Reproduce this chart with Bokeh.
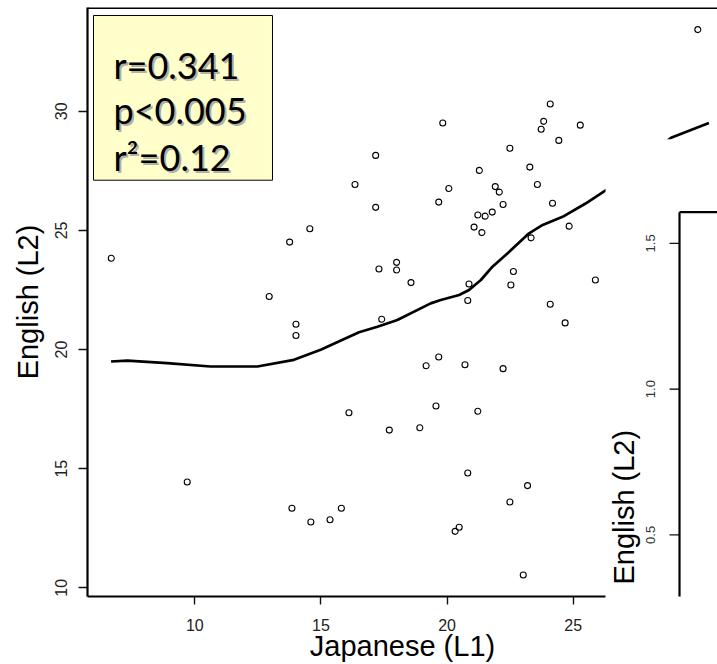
import numpy as np
from bokeh.plotting import figure
from bokeh.models import Range1d, FixedTicker, Span, Arrow
from bokeh.core.properties import value
from bokeh.embed import file_html
from bokeh.resources import INLINE

# ---------------- data ----------------
japanese_l1 = [6.69, 9.70, 12.95, 13.76, 13.85, 14.01, 14.01, 14.56, 14.60, 15.36,
               15.81, 16.11, 16.35, 17.17, 17.17, 17.30, 17.41, 17.71, 18.00, 18.00,
               18.57, 18.92, 19.17, 19.56, 19.67, 19.67, 19.83, 20.07, 20.32, 20.48,
               20.71, 20.82, 20.82, 20.87, 21.07, 21.22, 21.22, 21.28, 21.38, 21.51,
               21.79, 21.91, 22.07, 22.22, 22.22, 22.49, 22.49, 22.53, 22.63, 23.02,
               23.19, 23.28, 23.33, 23.58, 23.73, 23.83, 24.09, 24.09, 24.18, 24.43,
               24.68, 24.84, 25.28, 25.88, 29.94]
english_l2 = [23.83, 14.44, 22.23, 24.51, 13.34, 21.06, 20.59, 25.07, 12.76, 12.86,
              13.34, 17.35, 26.93, 28.15, 25.97, 23.38, 21.27, 16.62, 23.66, 23.34,
              22.81, 16.72, 19.32, 17.63, 26.19, 19.69, 29.51, 26.76, 12.37, 12.54,
              19.36, 22.06, 14.82, 22.75, 25.14, 25.65, 17.41, 27.52, 24.91, 25.60,
              25.77, 26.84, 26.61, 26.09, 19.20, 28.45, 13.60, 22.71, 23.28, 10.54,
              14.29, 27.66, 24.69, 26.93, 29.25, 29.58, 30.31, 21.90, 26.14, 28.78,
              21.12, 25.18, 29.42, 22.92, 33.43]

loess_x = [6.68, 7.32, 8.90, 10.62, 12.48, 13.93, 14.99, 16.51, 17.24, 18.03,
           19.35, 19.75, 20.48, 20.87, 21.34, 21.80, 22.40, 23.25, 23.79, 24.58,
           25.49, 26.30, 28.88, 30.38]
loess_y = [19.50, 19.54, 19.43, 19.29, 19.29, 19.57, 19.99, 20.73, 20.96, 21.24,
           21.94, 22.08, 22.29, 22.50, 22.92, 23.48, 24.04, 24.88, 25.23, 25.57,
           26.13, 26.69, 28.89, 29.51]

stats_lines = ["r=0.341", "p<0.005", "r\u00b2=0.12"]
x_ticks = [10, 15, 20, 25]
y_ticks = [10, 15, 20, 25, 30]
panel2_ticks = [0.5, 1.0, 1.5]
panel2_tick_labels = ["0.5", "1.0", "1.5"]
x_title = "Japanese (L1)"
y_title = "English (L2)"

# ---------------- layout constants ----------------
X_LO, X_HI = 5.7466, 30.720
Y_LO, Y_HI = 9.6355, 34.358
P2_LO, P2_HI = 0.2887, 2.30925
OVER_LEFT, OVER_TOP = 26.28, 28.83
P2_LEFT, P2_TOP, P2_TICK_X0, P2_LABEL_X, P2_TITLE_X, P2_TITLE_Y = 29.214, 1.6072, 28.82, 28.06, 27.00, 0.595
BOX_L, BOX_R, BOX_T, BOX_B = 5.984, 13.080, 34.023, 27.109
TXT_X = 6.777
TXT_Y = [31.93, 30.05, 28.08]

FONT = "Liberation Sans"

p = figure(width=717, height=664, output_backend="svg", toolbar_location=None,
           x_range=Range1d(X_LO, X_HI), y_range=Range1d(Y_LO, Y_HI),
           min_border_left=87, min_border_right=0, min_border_top=7, min_border_bottom=67)
p.extra_y_ranges = {"p2": Range1d(P2_LO, P2_HI)}
p.outline_line_color = None
p.grid.visible = False
p.background_fill_color = "white"
p.border_fill_color = "white"

p.xaxis.ticker = FixedTicker(ticks=x_ticks)
p.yaxis.ticker = FixedTicker(ticks=y_ticks)
p.xaxis.bounds = (X_LO, OVER_LEFT)
for ax in p.axis:
    ax.axis_line_width = 2.2
    ax.axis_line_color = "black"
    ax.major_tick_in = 0
    ax.minor_tick_out = 0
    ax.minor_tick_in = 0
    ax.major_tick_line_width = 1.4
    ax.major_tick_line_color = "#111111"
    ax.major_label_text_font = FONT
    ax.major_label_text_font_size = "16px"
    ax.major_label_text_color = "#222222"
    ax.axis_label_text_font = FONT
    ax.axis_label_text_font_size = "29px"
    ax.axis_label_text_font_style = "normal"
    ax.axis_label_text_color = "black"
p.xaxis.major_tick_out = 8
p.yaxis.major_tick_out = 9
p.xaxis.major_label_standoff = 14
p.yaxis.major_label_standoff = 11
p.yaxis.major_label_orientation = "vertical"
p.xaxis.axis_label = x_title
p.yaxis.axis_label = y_title
p.xaxis.axis_label_standoff = -4
p.yaxis.axis_label_standoff = 9

# data
p.scatter(japanese_l1, english_l2, marker="circle", size=6, fill_color=None,
          line_color="black", line_width=1.1)
p.line(loess_x, loess_y, line_width=2.7, line_color="black")

# overlaid second panel (white sheet)
p.quad(left=[OVER_LEFT], right=[X_HI + 5], top=[OVER_TOP], bottom=[Y_LO - 5],
       fill_color="white", line_color=None)
p.segment(x0=[P2_LEFT], x1=[X_HI + 5], y0=[P2_TOP], y1=[P2_TOP], y_range_name="p2",
          line_width=2.2, line_color="black")
p.add_layout(Arrow(end=None, x_start=P2_LEFT, y_start=P2_TOP, x_end=P2_LEFT, y_end=P2_LO - 1,
                   y_range_name="p2", line_width=2.2, line_color="black"))
p.segment(x0=[P2_TICK_X0] * len(panel2_ticks), x1=[P2_LEFT] * len(panel2_ticks),
          y0=panel2_ticks, y1=panel2_ticks, y_range_name="p2", line_width=1.4, line_color="#111111")
p.text(x=[P2_LABEL_X] * len(panel2_ticks), y=panel2_ticks, text=panel2_tick_labels,
       angle=np.pi / 2, text_align="center", text_baseline="middle", y_range_name="p2",
       text_font=value(FONT), text_font_size="13px", text_color="#333333")
p.text(x=[P2_TITLE_X], y=[P2_TITLE_Y], text=[y_title], angle=np.pi / 2, text_align="center",
       text_baseline="middle", y_range_name="p2",
       text_font=value(FONT), text_font_size="29px", text_color="black")

# stats box
p.quad(left=[BOX_L], right=[BOX_R], top=[BOX_T], bottom=[BOX_B],
       fill_color="#FFFFCC", line_color="black", line_width=1)
p.text(x=[TXT_X] * 3, y=TXT_Y, text=stats_lines, x_offset=2, y_offset=2,
       text_font=value("Lato"), text_font_size="36px", text_color="#9a9a9a", text_alpha=0.8,
       text_baseline="alphabetic")
p.text(x=[TXT_X] * 3, y=TXT_Y, text=stats_lines,
       text_font=value("Lato"), text_font_size="36px", text_color="black",
       text_baseline="alphabetic")

# frame top line
p.add_layout(Span(location=Y_HI, dimension="width", line_width=3, line_color="black"))

open("out.html", "w").write(file_html(p, INLINE))
